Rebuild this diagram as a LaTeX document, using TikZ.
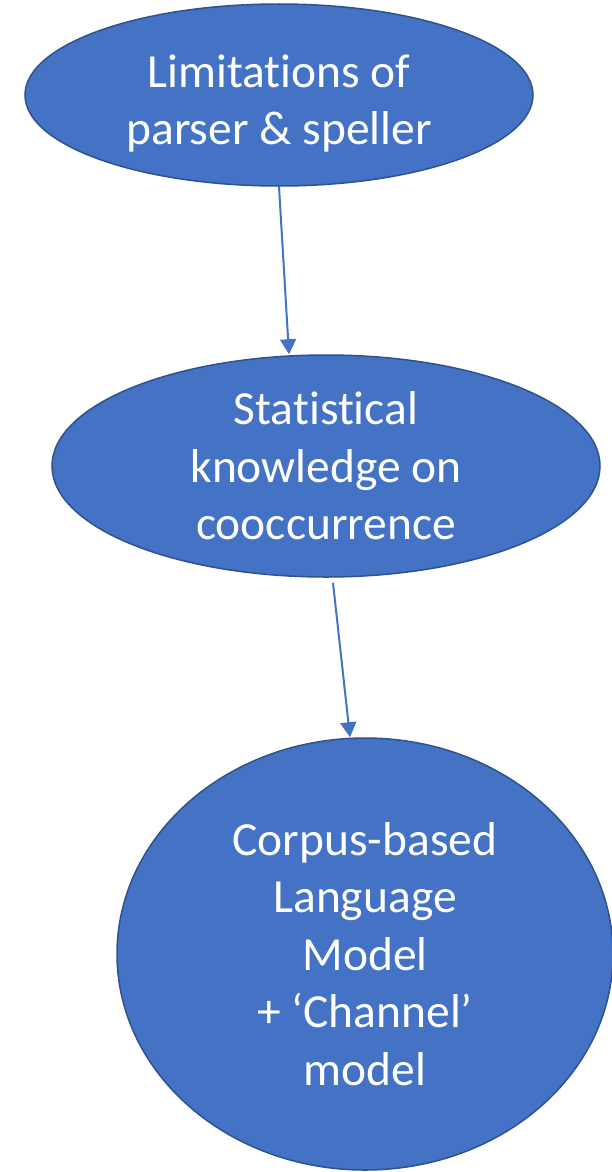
\documentclass[tikz,border=0pt]{standalone}
\usepackage{fontspec}
\setmainfont{Carlito}[RawFeature={-liga,-clig,-calt,-dlig}]
\usetikzlibrary{shapes.geometric,arrows.meta}
\definecolor{fillblue}{HTML}{4472C4}
\definecolor{edgeblue}{HTML}{2F528F}
\begin{document}
\begin{tikzpicture}[x=1pt,y=-1pt]
    \tikzstyle{blob}=[ellipse,draw=edgeblue,fill=fillblue,line width=1.5pt,inner sep=0pt,
      text=white,align=center,font=\fontsize{47.5}{57.5}\selectfont]
    \tikzstyle{link}=[draw=fillblue,line width=2pt,-{Triangle[width=16pt,length=15pt]}]
      \useasboundingbox (0,0) rectangle (612,1172);
      \node (lim) at (279, 95) [blob,minimum width=508pt,minimum height=182pt,text height=107pt] {Limitat\kern0pt ions of\\parser \& speller};
      \node (stat) at (326, 466) [blob,minimum width=548pt,minimum height=222pt] {Stat\kern0pt ist\kern0pt ical\\knowledge on\\cooccurrence};
      \node (corpus) at (365, 954) [blob,minimum width=496pt,minimum height=432pt] {Corpus-based\\Language\\Model\\+ ‘Channel’\\model};

      \path[link] (lim.south) -- ([xshift=-37pt]stat.north);
      \path[link] ([xshift=7pt,yshift=-5pt]stat.south) -- ([xshift=-15pt]corpus.north);
  \end{tikzpicture}
\end{document}
